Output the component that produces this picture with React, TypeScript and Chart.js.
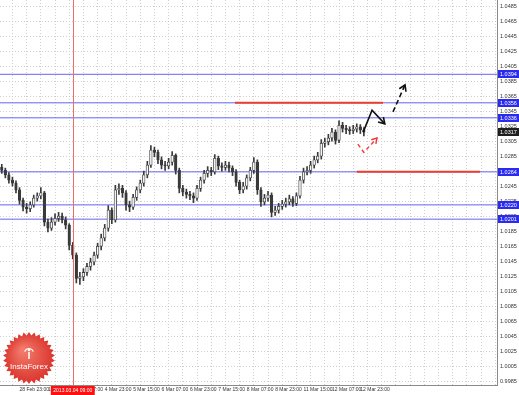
import React, { useEffect, useRef } from 'react';
import { Chart, registerables } from 'chart.js';
Chart.register(...registerables);

// ---- Candle data (H2 bars, slot index = position) ----
const firstOpen = 1.0270;
const closes = [
  1.0266, 1.0260, 1.0253, 1.0249, 1.0240, 1.0226, 1.0217, 1.0215, 1.0220, 1.0229,
  1.0232, 1.0236, 1.0197, 1.0189, 1.0197, 1.0202, 1.0205, 1.0200, 1.0193, 1.0166,
  1.0153, 1.0122, 1.0124, 1.0130, 1.0138, 1.0144, 1.0153, 1.0165, 1.0176, 1.0189,
  1.0213, 1.0200, 1.0240, 1.0242, 1.0236, 1.0220, 1.0217, 1.0230, 1.0240, 1.0249,
  1.0260, 1.0273, 1.0293, 1.0290, 1.0280, 1.0273, 1.0272, 1.0277, 1.0286, 1.0266,
  1.0242, 1.0237, 1.0234, 1.0232, 1.0229, 1.0242, 1.0253, 1.0262, 1.0266, 1.0264,
  1.0282, 1.0272, 1.0270, 1.0273, 1.0269, 1.0264, 1.0250, 1.0240, 1.0245, 1.0256,
  1.0266, 1.0277, 1.0240, 1.0224, 1.0229, 1.0233, 1.0210, 1.0213, 1.0218, 1.0221,
  1.0224, 1.0228, 1.0222, 1.0232, 1.0253, 1.0264, 1.0266, 1.0273, 1.0280, 1.0285,
  1.0302, 1.0304, 1.0309, 1.0317, 1.0306, 1.0326, 1.0322, 1.0320, 1.0319, 1.0321,
  1.0324, 1.0320, 1.0317,
];
const highs = [
  1.0274, 1.0269, 1.0263, 1.0257, 1.0252, 1.0243, 1.0229, 1.0222, 1.0224, 1.0233,
  1.0236, 1.0243, 1.0238, 1.0201, 1.0203, 1.0208, 1.0210, 1.0209, 1.0204, 1.0195,
  1.0170, 1.0156, 1.0130, 1.0135, 1.0142, 1.0149, 1.0157, 1.0169, 1.0181, 1.0194,
  1.0219, 1.0216, 1.0246, 1.0248, 1.0246, 1.0239, 1.0225, 1.0234, 1.0244, 1.0253,
  1.0265, 1.0278, 1.0299, 1.0297, 1.0293, 1.0284, 1.0278, 1.0282, 1.0291, 1.0288,
  1.0269, 1.0246, 1.0241, 1.0238, 1.0236, 1.0246, 1.0257, 1.0266, 1.0271, 1.0270,
  1.0287, 1.0285, 1.0276, 1.0278, 1.0277, 1.0272, 1.0267, 1.0253, 1.0250, 1.0260,
  1.0270, 1.0283, 1.0280, 1.0243, 1.0234, 1.0238, 1.0236, 1.0218, 1.0222, 1.0226,
  1.0229, 1.0233, 1.0231, 1.0236, 1.0258, 1.0269, 1.0271, 1.0278, 1.0285, 1.0290,
  1.0307, 1.0309, 1.0314, 1.0322, 1.0320, 1.0332, 1.0330, 1.0326, 1.0324, 1.0326,
  1.0328, 1.0327, 1.0323,
];
const lows = [
  1.0262, 1.0256, 1.0249, 1.0245, 1.0236, 1.0221, 1.0212, 1.0209, 1.0211, 1.0217,
  1.0225, 1.0228, 1.0192, 1.0184, 1.0186, 1.0193, 1.0198, 1.0196, 1.0188, 1.0160,
  1.0148, 1.0116, 1.0114, 1.0119, 1.0126, 1.0133, 1.0140, 1.0149, 1.0160, 1.0172,
  1.0185, 1.0195, 1.0197, 1.0234, 1.0230, 1.0213, 1.0211, 1.0214, 1.0226, 1.0236,
  1.0245, 1.0256, 1.0270, 1.0284, 1.0275, 1.0268, 1.0266, 1.0268, 1.0273, 1.0261,
  1.0236, 1.0232, 1.0229, 1.0227, 1.0223, 1.0226, 1.0238, 1.0249, 1.0257, 1.0259,
  1.0261, 1.0267, 1.0265, 1.0266, 1.0264, 1.0259, 1.0245, 1.0235, 1.0236, 1.0241,
  1.0252, 1.0262, 1.0234, 1.0218, 1.0220, 1.0225, 1.0204, 1.0206, 1.0209, 1.0214,
  1.0217, 1.0220, 1.0218, 1.0219, 1.0229, 1.0249, 1.0260, 1.0262, 1.0269, 1.0276,
  1.0281, 1.0297, 1.0300, 1.0305, 1.0301, 1.0303, 1.0317, 1.0315, 1.0314, 1.0315,
  1.0317, 1.0315, 1.0312,
];

// ---- Axis ticks ----
const timeTickSlots = [5, 13, 21, 29, 37, 45, 53, 61, 69, 77, 85, 93, 101];
const timeTickLabels = [
  '28 Feb 23:00', '1 Mar 15:00', '4 Mar 07:00', '4 Mar 23:00', '5 Mar 15:00',
  '6 Mar 07:00', '6 Mar 23:00', '7 Mar 15:00', '8 Mar 07:00', '8 Mar 23:00',
  '11 Mar 15:00', '12 Mar 07:00', '12 Mar 23:00',
];
const priceTicks = [
  0.9985, 1.0005, 1.0025, 1.0045, 1.0065, 1.0085, 1.0105, 1.0125, 1.0145, 1.0165,
  1.0185, 1.0205, 1.0225, 1.0245, 1.0265, 1.0285, 1.0305, 1.0325, 1.0345, 1.0365,
  1.0385, 1.0405, 1.0425, 1.0445, 1.0465, 1.0485,
];

// ---- Levels & annotations ----
const blueLevels = [1.0394, 1.0356, 1.0336, 1.0264, 1.0220, 1.0201];
const redLevelPrices = [1.0356, 1.0264];
const redLevelFrom = [65.7, 100.0];
const redLevelTo = [107.4, 134.7];
const blackPathX = [101.8, 104.3, 107.9];
const blackPathY = [1.0317, 1.0346, 1.0328];
const blackDashX = [110.2, 113.6];
const blackDashY = [1.0344, 1.0380];
const redPathX = [100.3, 102.0, 105.7];
const redPathY = [1.0301, 1.0290, 1.0309];
const crossSlot = 20;
const crossLabel = '2013.03.04 09:00';

const SLOT_MIN = -0.5;
const SLOT_MAX = 139.5;
const PRICE_MIN = 0.998;
const PRICE_MAX = 1.0493;

const FONT = "'Liberation Sans', Arial, sans-serif";

function arrowHead(ctx: CanvasRenderingContext2D, x0: number, y0: number, x1: number, y1: number, len: number) {
  const a = Math.atan2(y1 - y0, x1 - x0);
  ctx.beginPath();
  ctx.moveTo(x1 - len * Math.cos(a - 0.55), y1 - len * Math.sin(a - 0.55));
  ctx.lineTo(x1, y1);
  ctx.lineTo(x1 - len * Math.cos(a + 0.55), y1 - len * Math.sin(a + 0.55));
  ctx.stroke();
}

export default function App() {
  const ref = useRef<HTMLCanvasElement>(null);
  useEffect(() => {
    document.body.style.margin = '0';
    const canvas = ref.current!;
    const opens = closes.map((c, i) => (i === 0 ? firstOpen : closes[i - 1]));
    const wickData = closes.map((_, i) => ({ x: i, y: [lows[i], highs[i]] }));
    const bodyData = closes.map((c, i) => ({ x: i, y: [opens[i], c] }));
    const bodyFill = closes.map((c, i) => (c >= opens[i] ? '#f4f4f4' : '#3a3a3a'));

    const gridSlots: number[] = [];
    for (let s = 1; s <= 137; s += 4) gridSlots.push(s);

    const levelSets: any[] = blueLevels.map((p) => ({
      type: 'line',
      data: [{ x: SLOT_MIN, y: p }, { x: SLOT_MAX, y: p }],
      borderColor: '#6464f5',
      borderWidth: 1,
      pointRadius: 0,
      order: 5,
    }));
    const redSets: any[] = redLevelPrices.map((p, i) => ({
      type: 'line',
      data: [{ x: redLevelFrom[i], y: p }, { x: redLevelTo[i], y: p }],
      borderColor: '#e8402c',
      borderWidth: 2,
      pointRadius: 0,
      order: 4,
    }));

    const overlay = {
      id: 'overlay',
      afterDatasetsDraw(chart: any) {
        const { ctx, chartArea, scales } = chart;
        const x = Math.round(scales.x.getPixelForValue(crossSlot));
        ctx.save();
        ctx.fillStyle = '#f06a6a';
        ctx.fillRect(x, chartArea.top, 1, chartArea.bottom - chartArea.top);
        ctx.restore();
      },
      afterDraw(chart: any) {
        const { ctx, chartArea, scales } = chart;
        const xs = scales.x;
        const ys = scales.y;
        ctx.save();
        // arrowheads
        ctx.lineWidth = 1.6;
        ctx.strokeStyle = '#111';
        ctx.setLineDash([]);
        let n = blackPathX.length;
        arrowHead(ctx, xs.getPixelForValue(blackPathX[n - 2]), ys.getPixelForValue(blackPathY[n - 2]),
          xs.getPixelForValue(blackPathX[n - 1]), ys.getPixelForValue(blackPathY[n - 1]), 7);
        n = blackDashX.length;
        arrowHead(ctx, xs.getPixelForValue(blackDashX[n - 2]), ys.getPixelForValue(blackDashY[n - 2]),
          xs.getPixelForValue(blackDashX[n - 1]), ys.getPixelForValue(blackDashY[n - 1]), 7);
        ctx.strokeStyle = '#f03a3a';
        ctx.lineWidth = 1.4;
        n = redPathX.length;
        arrowHead(ctx, xs.getPixelForValue(redPathX[n - 2]), ys.getPixelForValue(redPathY[n - 2]),
          xs.getPixelForValue(redPathX[n - 1]), ys.getPixelForValue(redPathY[n - 1]), 6);

        // price boxes on the axis
        ctx.font = `5.5px ${FONT}`;
        ctx.textBaseline = 'middle';
        ctx.textAlign = 'left';
        const boxX = chartArea.right + 1;
        const drawBox = (price: number, fill: string) => {
          const y = Math.round(ys.getPixelForValue(price));
          ctx.fillStyle = fill;
          ctx.fillRect(boxX, y - 4, 21, 8);
          ctx.fillStyle = '#ffffff';
          ctx.fillText(price.toFixed(4), boxX + 2, y + 0.5);
        };
        blueLevels.forEach((p) => drawBox(p, '#2b2bef'));
        drawBox(closes[closes.length - 1], '#1e1e1e');

        // crosshair time label
        const cx = xs.getPixelForValue(crossSlot);
        ctx.font = `5px ${FONT}`;
        const w = ctx.measureText(crossLabel).width + 5;
        ctx.fillStyle = '#ff1010';
        ctx.fillRect(cx - w / 2, chartArea.bottom + 1, w, 9);
        ctx.fillStyle = '#ffffff';
        ctx.textAlign = 'center';
        ctx.fillText(crossLabel, cx, chartArea.bottom + 5.5);

        // InstaForex logo
        const lx = 29, ly = 358, rOut = 26, rIn = 22.5, spikes = 30;
        ctx.beginPath();
        for (let i = 0; i < spikes * 2; i++) {
          const r = i % 2 === 0 ? rOut : rIn;
          const a = (Math.PI * i) / spikes - Math.PI / 2;
          const px = lx + r * Math.cos(a);
          const py = ly + r * Math.sin(a);
          if (i === 0) ctx.moveTo(px, py);
          else ctx.lineTo(px, py);
        }
        ctx.closePath();
        const g = ctx.createRadialGradient(lx - 6, ly - 8, 2, lx, ly, rOut);
        g.addColorStop(0, '#f37a6a');
        g.addColorStop(1, '#d9332b');
        ctx.fillStyle = g;
        ctx.fill();
        // emblem
        ctx.strokeStyle = '#ffffff';
        ctx.fillStyle = '#ffffff';
        ctx.lineWidth = 1.2;
        ctx.beginPath();
        ctx.arc(lx, ly - 5, 4.5, Math.PI * 1.1, Math.PI * 1.9);
        ctx.stroke();
        ctx.fillRect(lx - 0.8, ly - 6, 1.6, 7);
        ctx.beginPath();
        ctx.arc(lx, ly - 8, 1.3, 0, Math.PI * 2);
        ctx.fill();
        ctx.font = `8px ${FONT}`;
        ctx.textAlign = 'center';
        ctx.textBaseline = 'middle';
        ctx.fillText('InstaForex', lx, ly + 9);
        ctx.restore();
      },
    };

    const chart = new Chart(canvas, {
      type: 'bar',
      data: {
        datasets: [
          ...levelSets,
          ...redSets,
          {
            type: 'bar',
            data: wickData as any,
            backgroundColor: '#3a3a3a',
            barThickness: 1,
            grouped: false,
            order: 3,
          },
          {
            type: 'bar',
            data: bodyData as any,
            backgroundColor: bodyFill,
            borderColor: '#3a3a3a',
            borderWidth: 0.8,
            borderSkipped: false,
            barThickness: 2.6,
            minBarLength: 1,
            grouped: false,
            order: 2,
          },
          {
            type: 'line',
            data: blackPathX.map((x, i) => ({ x, y: blackPathY[i] })),
            borderColor: '#111111',
            borderWidth: 1.6,
            pointRadius: 0,
            order: 1,
          },
          {
            type: 'line',
            data: blackDashX.map((x, i) => ({ x, y: blackDashY[i] })),
            borderColor: '#111111',
            borderWidth: 1.6,
            borderDash: [5, 3],
            pointRadius: 0,
            order: 1,
          },
          {
            type: 'line',
            data: redPathX.map((x, i) => ({ x, y: redPathY[i] })),
            borderColor: '#f03a3a',
            borderWidth: 1.4,
            borderDash: [4, 3],
            pointRadius: 0,
            order: 1,
          },
        ] as any,
      },
      options: {
        responsive: false,
        animation: false,
        layout: { padding: 0 },
        plugins: { legend: { display: false }, tooltip: { enabled: false } },
        scales: {
          x: {
            type: 'linear',
            min: SLOT_MIN,
            max: SLOT_MAX,
            offset: false,
            position: 'bottom',
            afterBuildTicks: (scale: any) => {
              scale.ticks = gridSlots.map((v) => ({ value: v }));
            },
            afterFit: (scale: any) => {
              scale.height = 10;
              scale.paddingLeft = 0;
              scale.paddingRight = 0;
            },
            grid: { color: '#cfcfcf', drawTicks: false, lineWidth: 1 },
            border: { display: true, color: '#8a8a8a', width: 1, dash: [1, 2] },
            ticks: {
              autoSkip: false,
              maxRotation: 0,
              align: 'start',
              padding: 2,
              color: '#333333',
              font: { family: FONT, size: 5 },
              callback: (v: any) => {
                const k = timeTickSlots.indexOf(Number(v));
                return k >= 0 ? timeTickLabels[k] : '';
              },
            },
          },
          y: {
            type: 'linear',
            position: 'right',
            min: PRICE_MIN,
            max: PRICE_MAX,
            afterBuildTicks: (scale: any) => {
              scale.ticks = priceTicks.map((v) => ({ value: v }));
            },
            afterFit: (scale: any) => {
              scale.width = 22;
              scale.paddingTop = 0;
              scale.paddingBottom = 0;
            },
            grid: { color: '#cfcfcf', drawTicks: false, lineWidth: 1 },
            border: { display: true, color: '#8a8a8a', width: 1, dash: [1, 2] },
            ticks: {
              padding: 3,
              color: '#333333',
              font: { family: FONT, size: 5.5 },
              callback: (v: any) => Number(v).toFixed(4),
            },
          },
        },
      } as any,
      plugins: [overlay],
    });
    return () => chart.destroy();
  }, []);
  return <canvas ref={ref} width={519} height={395} style={{ display: 'block', width: 519, height: 395 }} />;
}
